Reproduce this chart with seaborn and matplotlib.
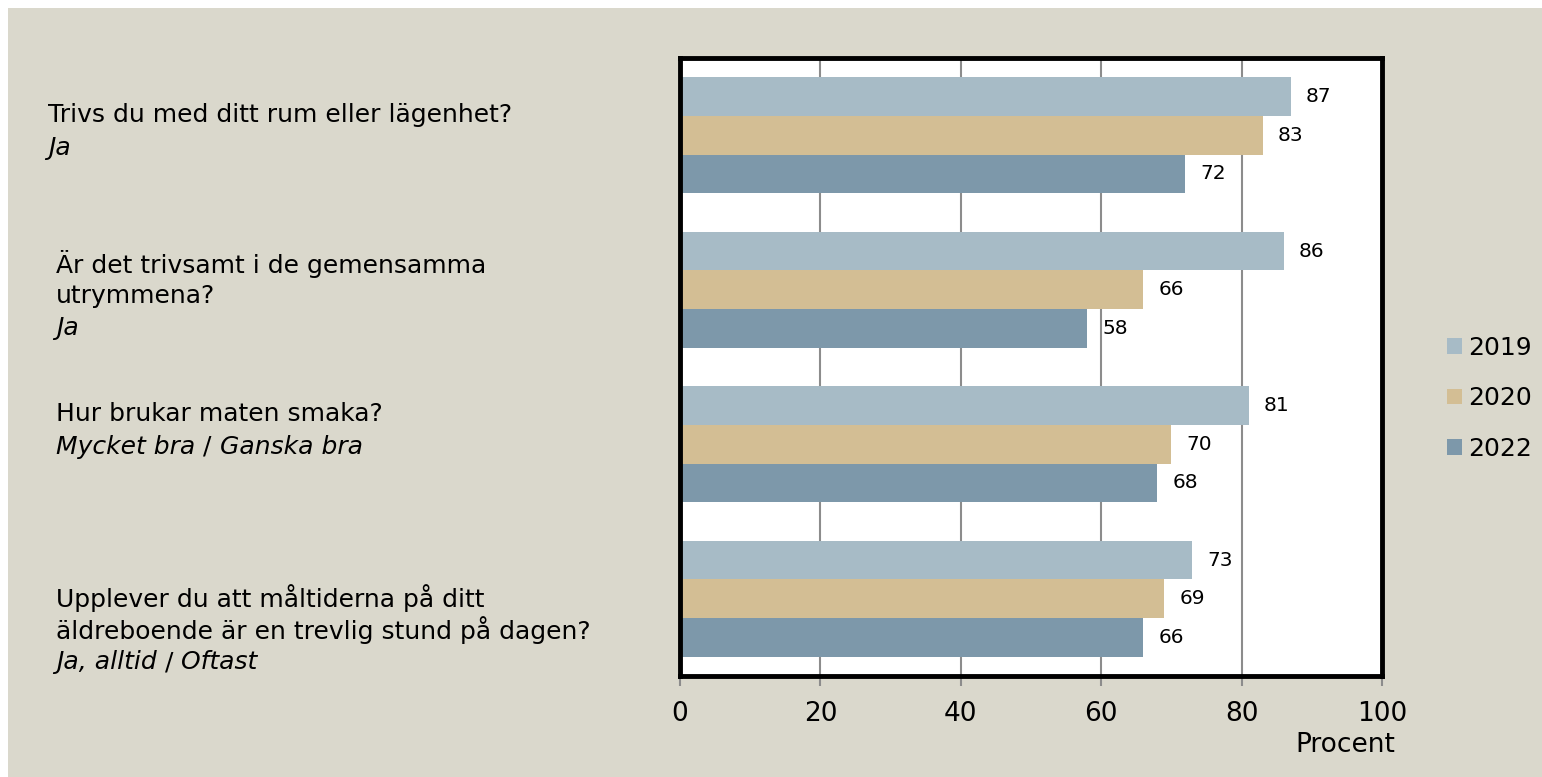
import numpy as np
import pandas as pd
import matplotlib
matplotlib.use("Agg")
import matplotlib.pyplot as plt
import seaborn as sns
from matplotlib.patches import Rectangle

# ---------------- data ----------------
questions = [
    ["Trivs du med ditt rum eller lägenhet?"],
    ["Är det trivsamt i de gemensamma", "utrymmena?"],
    ["Hur brukar maten smaka?"],
    ["Upplever du att måltiderna på ditt", "äldreboende är en trevlig stund på dagen?"],
]
answers = [
    [("Ja", True)],
    [("Ja", True)],
    [("Mycket bra", True), (" / ", False), ("Ganska bra", True)],
    [("Ja, alltid", True), (" / ", False), ("Oftast", True)],
]
years = ["2019", "2020", "2022"]
v2019 = [87, 86, 81, 73]
v2020 = [83, 66, 70, 69]
v2022 = [72, 58, 68, 66]
xticks = [0, 20, 40, 60, 80, 100]
xlabel = "Procent"

colors = ["#A7BBC6", "#D3BE94", "#7D98AA"]
BG = "#DAD8CC"

keys = [f"q{i}" for i in range(len(questions))]
df = pd.DataFrame({
    "q": keys * 3,
    "year": sum([[y] * len(keys) for y in years], []),
    "value": v2019 + v2020 + v2022,
})

W, H = 1542, 777
sns.set_theme(style="white")
plt.rcParams["font.family"] = ["DejaVu Sans"]
plt.rcParams["text.color"] = "black"
plt.rcParams["xtick.labelcolor"] = "black"

fig = plt.figure(figsize=(W / 100, H / 100), dpi=100, facecolor="white")
fig.patches.append(Rectangle((8 / W, 0), 1, 1 - 8 / H, transform=fig.transFigure,
                             facecolor=BG, edgecolor="none", zorder=-10))

ax = fig.add_axes([680 / W, 1 - 676 / H, (1382 - 680) / W, (676 - 58) / H])
ax.set_facecolor("white")
sns.barplot(data=df, y="q", x="value", hue="year", hue_order=years,
            palette=colors, orient="h", width=0.75, linewidth=0,
            saturation=1, ax=ax, legend=False)

for cont in ax.containers:
    ax.bar_label(cont, padding=11, fontsize=14.5, color="black")

ax.set_xlim(0, 100)
ax.set_ylim(len(keys) - 0.5, -0.5)
ax.set_xticks(xticks)
ax.set_xticklabels([str(t) for t in xticks], fontsize=19)
ax.set_yticks([])
ax.set_ylabel("")
ax.set_xlabel("")
ax.xaxis.grid(True, color="#8C8C8C", linewidth=1.5)
ax.set_axisbelow(True)
for s in ax.spines.values():
    s.set_color("black")
    s.set_linewidth(3.5)
ax.tick_params(axis="x", direction="out", length=7, width=1.5, color="#8C8C8C",
               pad=11, bottom=True, labelcolor="black")

fig.text(1395 / W, 1 - 745 / H, xlabel, ha="right", va="center", fontsize=19)


def fy(py):
    return 1 - py / H


FS = 18
layout = [(48, [115], 148), (56, [264, 296], 328), (56, [414], 447), (56, [598, 630], 662)]
for (x0, qys, ay), qlines, ans in zip(layout, questions, answers):
    for line, yy in zip(qlines, qys):
        fig.text(x0 / W, fy(yy), line, ha="left", va="center", fontsize=FS)
    last = None
    for seg, ital in ans:
        style = "italic" if ital else "normal"
        if last is None:
            last = fig.text(x0 / W, fy(ay), seg, ha="left", va="center", fontsize=FS,
                            style=style)
        else:
            last = ax.annotate(seg, xy=(1, 0), xycoords=last, ha="left", va="bottom",
                               fontsize=FS, style=style, annotation_clip=False)

handles = [Rectangle((0, 0), 1, 1, facecolor=c, edgecolor="none") for c in colors]
fig.legend(handles, years, loc="upper left", bbox_to_anchor=(1447 / W, fy(336)),
           frameon=False, fontsize=18, handlelength=0.6, handleheight=0.6,
           handletextpad=0.25, labelspacing=1.05, borderaxespad=0, borderpad=0)

fig.savefig("out.png", dpi=100, facecolor="white")
